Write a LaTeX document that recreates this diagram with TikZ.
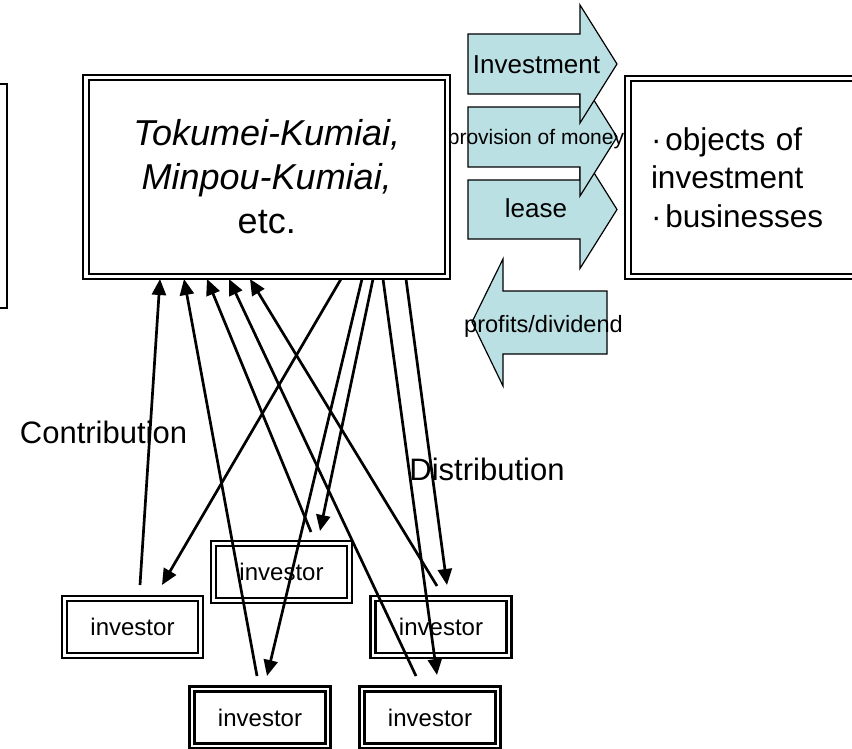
\documentclass[tikz,border=0pt]{standalone}
\usepackage{fontspec}
\setmainfont{Liberation Sans}
\usetikzlibrary{arrows.meta}
\definecolor{paleblue}{RGB}{187,224,227}
\tikzset{dbox/.style={draw, line width=2.2pt, double=white, double distance=3.3pt, inner sep=0pt},
         investor/.style={dbox, double distance=2.8pt, minimum width=136pt, minimum height=57pt, font=\fontsize{24}{28}\selectfont},
         flow/.style={line width=2.7pt, -{Triangle[length=16pt,width=14pt]}},
         band/.style={fill=paleblue, draw=black, line width=1.2pt, line join=miter},
         flowtext/.style={inner sep=0pt, anchor=base}}

\begin{document}
\begin{tikzpicture}[x=1pt,y=-1pt]
   \useasboundingbox (0,0) rectangle (852,749);
   \clip (0,0) rectangle (852,749);
   \draw[line width=2pt] (-20,84) rectangle (7,308);
   \node[dbox, minimum width=361.5pt, minimum height=199pt, align=center, font=\fontsize{36}{44}\selectfont]
      (kumiai) at (266.75,177) {\textit{Tokumei-Kumiai,}\\\textit{Minpou-Kumiai,}\\etc.};
   \node[dbox, minimum width=272pt, minimum height=198pt, text width=226pt, inner xsep=23pt, align=left, font=\fontsize{31.5}{38.5}\selectfont]
      (objects) at (764,177.5) {·\hspace{4pt}objects of\\investment\\·\hspace{4pt}businesses};
   \draw[band] (468,180) -- (580,180) -- (580,150.5) -- (617,209.5) -- (580,268.5) -- (580,239) -- (468,239) -- cycle;
   \node[flowtext, font=\fontsize{26}{30}\selectfont] (lease) at (536,218) {lease};
   \draw[band] (468,107) -- (580,107) -- (580,78) -- (617,137) -- (580,196) -- (580,167) -- (468,167) -- cycle;
   \node[flowtext, font=\fontsize{21}{25}\selectfont] (money) at (536,145) {provision of money};
   \draw[band] (468,34) -- (580,34) -- (580,5) -- (617,64) -- (580,123) -- (580,94) -- (468,94) -- cycle;
   \node[flowtext, font=\fontsize{26}{30}\selectfont] (invest) at (536.5,74) {Investment};
   \draw[band] (607,291) -- (503,291) -- (503,259) -- (472,322) -- (503,386) -- (503,354) -- (607,354) -- cycle;
   \node[flowtext, font=\fontsize{23.6}{28}\selectfont] (profits) at (543.5,332) {profits/dividend};
   \node[flowtext, font=\fontsize{31}{36}\selectfont] (contrib) at (103.5,443) {Contribution};
   \node[flowtext, font=\fontsize{31}{36}\selectfont] (distrib) at (487,480) {Distribution};
   \node[investor] (invA) at (132.5,627) {investor};
   \node[investor] (invB) at (281.5,572) {investor};
   \node[investor] (invC) at (441,627) {investor};
   \node[investor] (invD) at (260,717.5) {investor};
   \node[investor] (invE) at (430,717.5) {investor};
   \coordinate (c1) at (160,279);
   \coordinate (c2) at (184,279);
   \coordinate (c3) at (207,279);
   \coordinate (c4) at (229,279);
   \coordinate (c5) at (250,279);
   \coordinate (d1) at (341,279);
   \coordinate (d2) at (362,279);
   \coordinate (d3) at (373,279);
   \coordinate (d4) at (383,279);
   \coordinate (d5) at (406,279);
   \coordinate (upA) at (140,585);
   \coordinate (dnA) at (162,585);
   \coordinate (upB) at (311,532);
   \coordinate (dnB) at (320,531);
   \coordinate (upC) at (437,586);
   \coordinate (dnC) at (447,585);
   \coordinate (upD) at (257,676);
   \coordinate (dnD) at (267,676);
   \coordinate (upE) at (416,676);
   \coordinate (dnE) at (437,675);
   \draw[flow] (upA) -- (c1);
   \draw[flow] (upD) -- (c2);
   \draw[flow] (upB) -- (c3);
   \draw[flow] (upE) -- (c4);
   \draw[flow] (upC) -- (c5);
   \draw[flow] (d1) -- (dnA);
   \draw[flow] (d2) -- (dnD);
   \draw[flow] (d3) -- (dnB);
   \draw[flow] (d4) -- (dnE);
   \draw[flow] (d5) -- (dnC);
\end{tikzpicture}
\end{document}
